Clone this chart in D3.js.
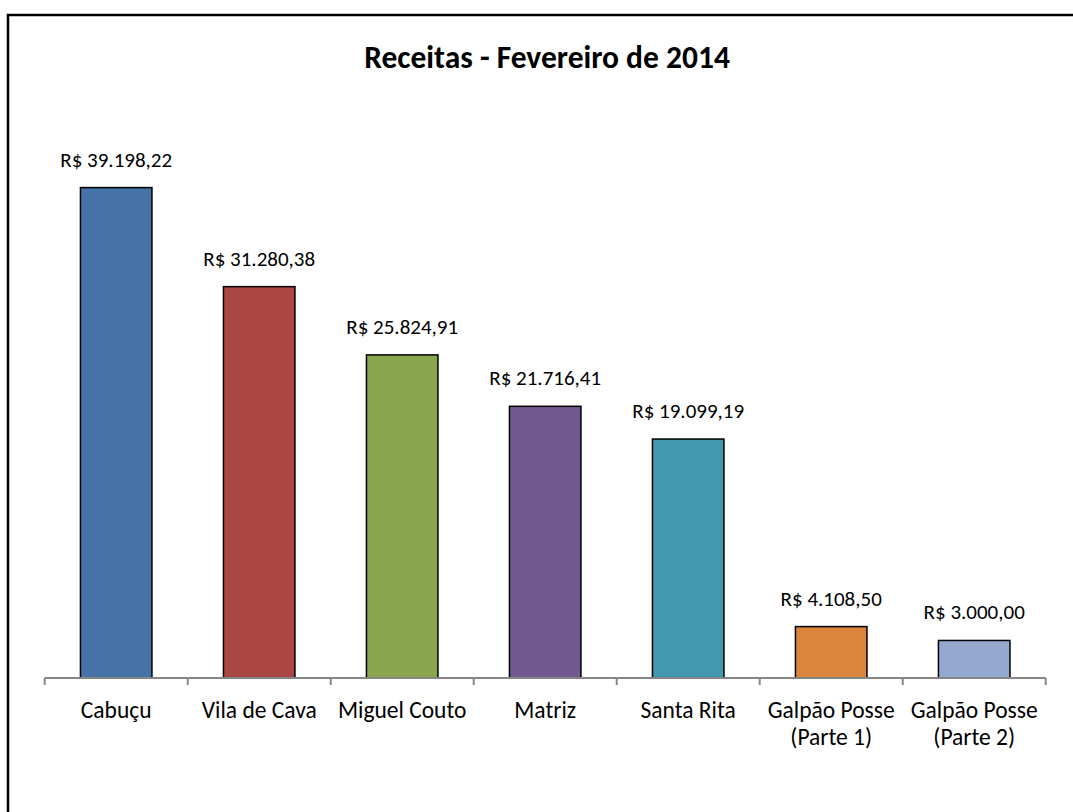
<!DOCTYPE html>
<html lang="pt">
<head>
    <meta charset="UTF-8">
    <script src="https://cdnjs.cloudflare.com/ajax/libs/d3/7.8.5/d3.min.js"></script>
    <style>
        html, body { margin: 0; background: #fff; overflow: hidden; }
        svg { display: block; overflow: hidden; font-family: Calibri, Carlito, Lato, sans-serif; }
    </style>
</head>
<body>
<svg width="1073" height="812"></svg>
<script>
    const titulo = 'Receitas - Fevereiro de 2014';
    const categorias = ['Cabuçu', 'Vila de Cava', 'Miguel Couto', 'Matriz', 'Santa Rita',
        'Galpão Posse\n(Parte 1)', 'Galpão Posse\n(Parte 2)'];
    const valores = [39198.22, 31280.38, 25824.91, 21716.41, 19099.19, 4108.50, 3000.00];
    const cores = ['#4572A7', '#AA4643', '#89A54E', '#71588F', '#4198AF', '#DB843D', '#93A9CF'];

    const svg = d3.select('svg');

    // moldura do gráfico: só a borda de cima e a da esquerda aparecem
    svg.append('path')
        .attr('d', 'M8,812V15H1073')
        .attr('fill', 'none').attr('stroke', '#000').attr('stroke-width', 2.5);

    svg.append('text')
        .attr('x', 547).attr('y', 68)
        .attr('text-anchor', 'middle')
        .style('font-weight', 'bold').style('font-size', '31.5px')
        .text(titulo);

    const xScale = d3.scaleBand().domain(categorias).range([44.7, 1045.7])
        .paddingInner(0.5).paddingOuter(0.25);
    const yScale = d3.scaleLinear().domain([0, 45000]).range([678, 115]);

    const fmt = d3.formatLocale({decimal: ',', thousands: '.', grouping: [3], currency: ['R$ ', '']});
    const moeda = fmt.format('$,.2f');

    // barras
    svg.selectAll('rect.barra')
        .data(valores).enter()
        .append('rect')
        .attr('class', 'barra')
        .attr('x', (d, i) => xScale(categorias[i]))
        .attr('y', d => yScale(d))
        .attr('width', xScale.bandwidth())
        .attr('height', d => yScale(0) - yScale(d))
        .attr('fill', (d, i) => cores[i])
        .attr('stroke', '#000').attr('stroke-width', 1.5);

    // rótulos de valor
    svg.selectAll('text.valor')
        .data(valores).enter()
        .append('text')
        .attr('class', 'valor')
        .attr('x', (d, i) => xScale(categorias[i]) + xScale.bandwidth() / 2)
        .attr('y', d => yScale(d) - 21)
        .attr('text-anchor', 'middle')
        .style('font-size', '21px')
        .text(d => moeda(d));

    // eixo x
    const passo = xScale.step();
    const bordas = d3.range(categorias.length + 1).map(i => 44.7 + i * passo);
    svg.append('line')
        .attr('x1', 44.7).attr('x2', 1045.7)
        .attr('y1', 678).attr('y2', 678)
        .attr('stroke', '#868686').attr('stroke-width', 2);
    svg.selectAll('line.tick')
        .data(bordas).enter()
        .append('line')
        .attr('class', 'tick')
        .attr('x1', d => d).attr('x2', d => d)
        .attr('y1', 678).attr('y2', 685)
        .attr('stroke', '#868686').attr('stroke-width', 2);

    const rot = svg.selectAll('text.cat')
        .data(categorias).enter()
        .append('text')
        .attr('class', 'cat')
        .attr('text-anchor', 'middle')
        .style('font-size', '23.5px')
        .attr('transform', d => `translate(${xScale(d) + xScale.bandwidth() / 2},718)`);
    rot.selectAll('tspan')
        .data(d => d.split('\n')).enter()
        .append('tspan')
        .attr('x', 0)
        .attr('dy', (d, i) => i ? 27 : 0)
        .text(d => d);
</script>
</body>
</html>
